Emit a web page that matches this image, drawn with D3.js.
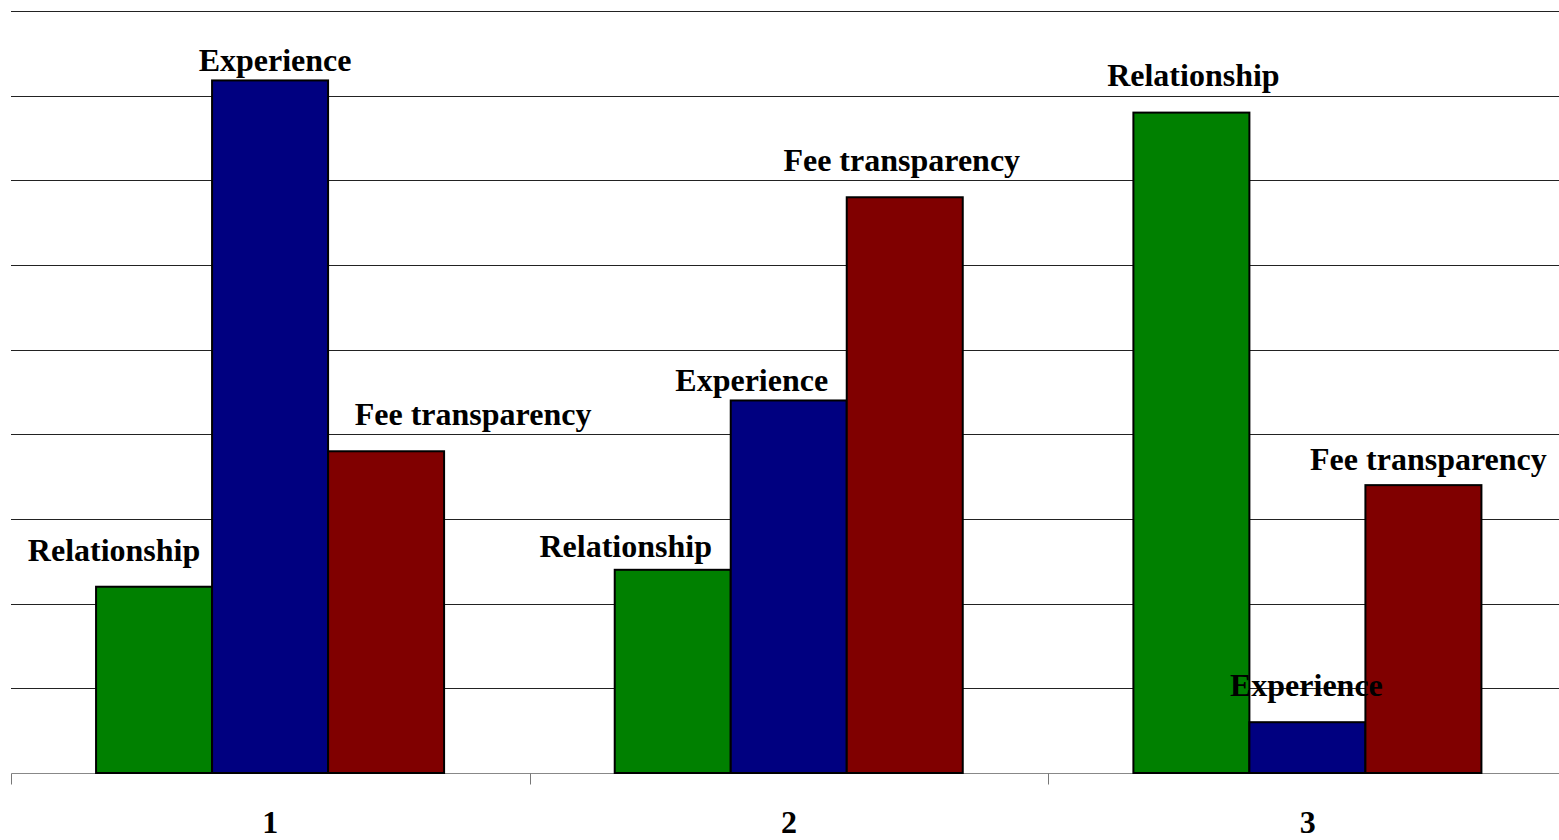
<!DOCTYPE html>
<html>
<head>
  <meta charset="utf-8">
  <script src="https://d3js.org/d3.v7.min.js"></script>
  <style>
    body { margin: 0; background: #fff; }
    svg text { font-family: "Liberation Serif", "Times New Roman", serif; font-weight: bold; }
  </style>
</head>
<body>
  <div id="my_dataviz"></div>
  <script>
    // categories and series
    const categories = ["1", "2", "3"];
    const seriesNames = ["Relationship", "Experience", "Fee transparency"];
    const relationship = [11, 12, 39];
    const experience = [40.9, 22, 3];
    const feeTransparency = [19, 34, 17];
    const yTicks = [0, 5, 10, 15, 20, 25, 30, 35, 40, 45];

    // label nudges (layout only): [dx from bar centre, dy from bar top]
    const labelNudge = [
      [[-40, -26], [5, -9], [87, -26]],
      [[-47, -13], [-37, -9], [-3, -26]],
      [[2, -27], [-1, -26], [5, -15]]
    ];

    const colors = ["#008000", "#000080", "#800000"];

    const W = 1559, H = 840;
    const svg = d3.select("#my_dataviz").append("svg")
      .attr("width", W).attr("height", H);

    const x0 = d3.scaleBand().domain(categories).range([11, 1567]);
    const bw = x0.bandwidth();
    const x1 = d3.scaleBand().domain(seriesNames).range([bw * 0.164, bw * 0.835]);
    const y = d3.scaleLinear().domain([0, 45]).range([773, 11]);

    // gridlines
    svg.append("g").selectAll("line")
      .data(yTicks.slice(1))
      .enter().append("line")
      .attr("x1", 11).attr("x2", W)
      .attr("y1", d => Math.round(y(d)) + 0.5).attr("y2", d => Math.round(y(d)) + 0.5)
      .attr("stroke", "#222").attr("stroke-width", 1);

    // x axis baseline and ticks
    const xAxis = svg.append("g").attr("transform", "translate(0," + (Math.round(y(0)) + 0.5) + ")")
      .call(d3.axisBottom(x0).tickSize(0).tickFormat(""));
    xAxis.select(".domain").attr("stroke", "#888").attr("d", "M11.5,0H" + W);
    xAxis.selectAll(".sep")
      .data([11, 11 + bw, 11 + 2 * bw])
      .enter().append("line")
      .attr("x1", d => Math.round(d) + 0.5).attr("x2", d => Math.round(d) + 0.5)
      .attr("y1", 0).attr("y2", 11)
      .attr("stroke", "#777");

    // bars
    const rows = categories.map((c, i) => ({
      cat: c, idx: i,
      values: [relationship[i], experience[i], feeTransparency[i]]
    }));

    const groups = svg.append("g").selectAll("g")
      .data(rows).enter().append("g")
      .attr("transform", d => "translate(" + x0(d.cat) + ",0)");

    groups.selectAll("rect")
      .data(d => d.values.map((v, j) => ({ name: seriesNames[j], v: v, j: j })))
      .enter().append("rect")
      .attr("x", d => x1(d.name))
      .attr("y", d => y(d.v))
      .attr("width", x1.bandwidth())
      .attr("height", d => y(0) - y(d.v))
      .attr("fill", d => colors[d.j])
      .attr("stroke", "#000")
      .attr("stroke-width", 2);

    // series labels above bars
    groups.selectAll("text")
      .data(d => d.values.map((v, j) => ({ name: seriesNames[j], v: v, j: j, n: labelNudge[d.idx][j] })))
      .enter().append("text")
      .attr("x", d => x1(d.name) + x1.bandwidth() / 2 + d.n[0])
      .attr("y", d => y(d.v) + d.n[1])
      .attr("text-anchor", "middle")
      .style("font-size", "32px")
      .attr("fill", "#000")
      .text(d => d.name);

    // category labels
    svg.append("g").selectAll("text")
      .data(categories).enter().append("text")
      .attr("x", d => x0(d) + bw / 2)
      .attr("y", 833)
      .attr("text-anchor", "middle")
      .style("font-size", "32px")
      .text(d => d);
  </script>
</body>
</html>
